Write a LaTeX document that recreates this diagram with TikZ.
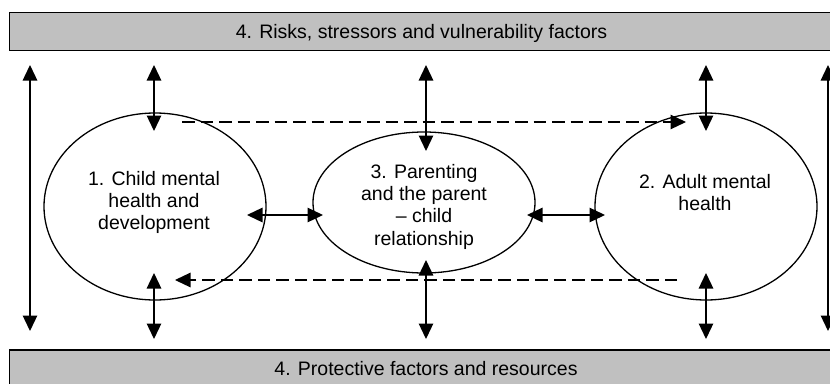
\documentclass[tikz,border=0pt]{standalone}
\usepackage{fontspec}
\setmainfont{Liberation Sans}
\usetikzlibrary{arrows.meta,shapes.geometric}
\begin{document}
\begin{tikzpicture}[x=1pt,y=-1pt,
  every node/.style={font=\fontsize{19.5}{22.3}\selectfont},
  bar/.style={draw=black,line width=1.2pt,fill=barfill,inner sep=0pt,text height=14pt,text depth=0pt},
  circ/.style={draw=black,line width=1.3pt,ellipse,inner sep=0pt},
  lbl/.style={align=center,anchor=base,inner sep=0pt},
  link/.style={line width=1.3pt,{Triangle[length=15.5pt,width=14.5pt]}-{Triangle[length=15.5pt,width=14.5pt]}},
  flow/.style={line width=1.2pt,dash pattern=on 12.5pt off 6pt,-{Triangle[length=15.5pt,width=14.5pt]}}]
\definecolor{barfill}{HTML}{C0C0C0}
\fill[white] (0,0) rectangle (830,383);
\useasboundingbox (0,0) rectangle (830,383);
% bars
\node[bar,minimum width=824pt,minimum height=38pt] (risk) at (421.5,31.7) {4. Risks, stressors and vulnerability factors};
\node[bar,minimum width=833pt,minimum height=36pt] (prot) at (426,368) {4. Protective factors and resources};
% ellipses
\node[circ,minimum width=222pt,minimum height=187pt] (child) at (155,206.5) {};
\node[circ,minimum width=222pt,minimum height=141pt] (parent) at (424,202.5) {};
\node[circ,minimum width=222pt,minimum height=187pt] (adult) at (706,206.5) {};
\node[lbl] (childtxt) at (154,229.6) {1. Child mental\\health and\\development};
\node[lbl] (parenttxt) at (424,245.2) {3. Parenting\\and the parent\\– child\\relationship};
\node[lbl] (adulttxt) at (705,210.6) {2. Adult mental\\health};
% end points
\coordinate (oLt) at (30,65);  \coordinate (oLb) at (30,331);
\coordinate (oRt) at (828,65); \coordinate (oRb) at (828,331);
\coordinate (cT1) at (154,65);  \coordinate (cT2) at (154,131);
\coordinate (cB1) at (154,273); \coordinate (cB2) at (154,339);
\coordinate (pT1) at (426,65);  \coordinate (pT2) at (426,151);
\coordinate (pB1) at (426,260); \coordinate (pB2) at (426,339);
\coordinate (aT1) at (706,65);  \coordinate (aT2) at (706,131);
\coordinate (aB1) at (706,273); \coordinate (aB2) at (706,339);
\coordinate (h1a) at (247,215); \coordinate (h1b) at (323,215);
\coordinate (h2a) at (527,215); \coordinate (h2b) at (605,215);
\coordinate (dTa) at (182,122); \coordinate (dTb) at (686,122);
\coordinate (dBa) at (677,280); \coordinate (dBb) at (175,280);
% connectors
\draw[link] (oLt) -- (oLb);
\draw[link] (oRt) -- (oRb);
\draw[link] (cT1) -- (cT2);
\draw[link] (cB1) -- (cB2);
\draw[link] (pT1) -- (pT2);
\draw[link] (pB1) -- (pB2);
\draw[link] (aT1) -- (aT2);
\draw[link] (aB1) -- (aB2);
\draw[link] (h1a) -- (h1b);
\draw[link] (h2a) -- (h2b);
\draw[flow] (dTa) -- (dTb);
\draw[flow] (dBa) -- (dBb);
\end{tikzpicture}
\end{document}
